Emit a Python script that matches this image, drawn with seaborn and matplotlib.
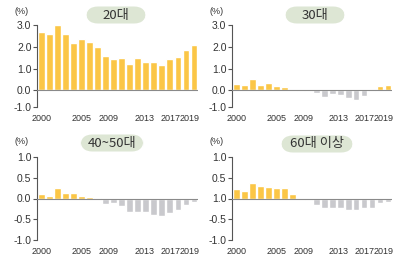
import numpy as np
import pandas as pd
import matplotlib
matplotlib.use('Agg')
import matplotlib.pyplot as plt
import seaborn as sns
from matplotlib.patches import FancyBboxPatch

years = list(range(2000, 2020))
tick_years = ['2000', '2005', '2009', '2013', '2017', '2019']

age20 = [2.68, 2.58, 2.98, 2.59, 2.17, 2.36, 2.23, 1.98, 1.56, 1.44,
         1.50, 1.23, 1.50, 1.30, 1.30, 1.17, 1.44, 1.52, 1.85, 2.10]
age30 = [0.30, 0.23, 0.53, 0.26, 0.32, 0.20, 0.14, 0.02, -0.02, -0.03,
         -0.14, -0.30, -0.17, -0.23, -0.36, -0.44, -0.24, -0.03, 0.20, 0.26]
age40 = [0.10, 0.07, 0.26, 0.125, 0.125, 0.07, 0.04, 0.01, -0.125, -0.10,
         -0.19, -0.33, -0.33, -0.33, -0.39, -0.43, -0.35, -0.27, -0.16, -0.09]
age60 = [0.22, 0.19, 0.375, 0.31, 0.28, 0.25, 0.26, 0.12, -0.02, -0.03,
         -0.15, -0.23, -0.23, -0.23, -0.27, -0.27, -0.22, -0.24, -0.12, -0.08]

titles = ['20대', '30대', '40~50대', '60대 이상']

sns.set_style('white')
plt.rcParams['font.family'] = ['Liberation Sans', 'Noto Sans CJK KR', 'DejaVu Sans']

pos_color = '#FBC646'
neg_color = '#C9C9CD'
txt_color = '#333333'
badge_color = '#DDE6D4'

fig = plt.figure(figsize=(3.95, 2.61), dpi=100)
W, H = 395, 261

# axes boxes in pixels: left, right, top, bottom
boxes = [(37, 198, 25, 107), (232, 392, 25, 107),
         (37, 198, 157, 240), (232, 392, 157, 240)]
ylims = [(-0.76, 3.0), (-0.76, 3.0), (-1.0, 1.0), (-1.0, 1.0)]
yticks = [[-0.76, 0, 1, 2, 3], [-0.76, 0, 1, 2, 3],
          [-1.0, -0.5, 0, 0.5, 1.0], [-1.0, -0.5, 0, 0.5, 1.0]]
ylabels = [['-1.0', '0.0', '1.0', '2.0', '3.0'],
           ['-1.0', '0.0', '1.0', '2.0', '3.0'],
           ['-1.0', '-0.5', '0.0', '0.5', '1.0'],
           ['-1.0', '-0.5', '1.0', '0.5', '1.0']]
# label spots (a bit left of the bars at the right end, like the original)
xtick_pos = [0, 5, 8.4, 12.8, 16.1, 18.45]
badges = [(116, 15, 60), (315, 15, 60), (112, 143, 63), (317, 144, 72)]
pct = [(22, 12), (217, 12), (22, 141), (217, 141)]

for i, vals in enumerate([age20, age30, age40, age60]):
    l, r, t, b = boxes[i]
    ax = fig.add_axes([l / W, 1 - b / H, (r - l) / W, (b - t) / H])
    df = pd.DataFrame({'year': [str(y) for y in years], 'value': vals})
    df['sign'] = np.where(df['value'] >= 0, 'pos', 'neg')
    sns.barplot(data=df, x='year', y='value', hue='sign', dodge=False,
                palette={'pos': pos_color, 'neg': neg_color}, width=0.85,
                legend=False, ax=ax, saturation=1)
    ax.axhline(0, color='#8a8a8a', lw=0.8, zorder=3)
    ax.set_xlim(-0.55, 19.5)
    ax.set_ylim(*ylims[i])
    ax.set_yticks(yticks[i])
    ax.set_yticklabels(ylabels[i])
    ax.set_xticks(xtick_pos)
    ax.set_xticklabels(tick_years)
    ax.set_xlabel('')
    ax.set_ylabel('')
    for s in ['top', 'right', 'bottom']:
        ax.spines[s].set_visible(False)
    ax.spines['left'].set_color('#555555')
    ax.spines['left'].set_linewidth(0.8)
    ax.tick_params(axis='y', length=3, width=0.8, color='#555555', pad=1,
                   labelsize=7.5, labelcolor=txt_color, direction='out')
    ax.tick_params(axis='x', length=0, pad=5, labelsize=6.5, labelcolor=txt_color)
    ax.yaxis.set_ticks_position('left')

    bx, by, bw = badges[i]
    bh = 17
    fig.add_artist(FancyBboxPatch(((bx - bw / 2) / W, 1 - (by + bh / 2) / H),
                                  bw / W, bh / H,
                                  boxstyle='round,pad=0,rounding_size=0.03',
                                  transform=fig.transFigure, fc=badge_color,
                                  ec='none', mutation_aspect=W / H))
    fig.text(bx / W, 1 - by / H, titles[i], ha='center', va='center',
             fontsize=9.5, color=txt_color,
             family=['Noto Sans CJK KR', 'DejaVu Sans'])
    px, py = pct[i]
    fig.text(px / W, 1 - py / H, '(%)', ha='center', va='center',
             fontsize=6.5, color=txt_color)

fig.savefig('out.png', dpi=100)
